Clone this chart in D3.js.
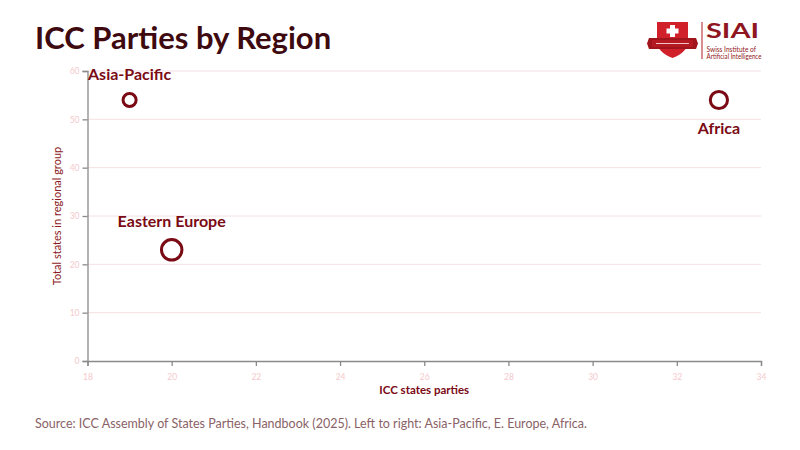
<!DOCTYPE html>
<html>
<head>
<meta charset="utf-8">
<script src="https://cdn.jsdelivr.net/npm/d3@7"></script>
<style>
  body { margin: 0; background: #fff; }
  svg { font-family: Lato, "Open Sans", sans-serif; }
</style>
</head>
<body>
<svg id="chart" width="800" height="450"></svg>
<script>
const WIDTH = 800
const HEIGHT = 450

// data
const regions = ['Asia-Pacific', 'Eastern Europe', 'Africa'];
const iccParties = [19, 20, 33];
const totalStates = [54, 23, 54];
const labelSide = ['above', 'above', 'below'];
const xTicks = [18, 20, 22, 24, 26, 28, 30, 32, 34];
const yTicks = [0, 10, 20, 30, 40, 50, 60];

const DARK_RED = '#7a0a14';
const TICK_PINK = '#f5c9cc';
const GRID_PINK = '#f6e0e2';

let padding = { left: 87.5, right: 39, top: 71, bottom: 89 };

const svg = d3.select('#chart');

const x = d3.scaleLinear()
    .domain([18, 34])
    .range([padding.left, WIDTH - padding.right]);

const y = d3.scaleLinear()
    .domain([0, 60])
    .range([HEIGHT - padding.bottom, padding.top]);

// circle size from share of the group that joined
const r = d3.scaleSqrt().domain([0, 1]).range([0, 11]);

let points = regions.map((name, i) => ({
    name: name,
    parties: iccParties[i],
    total: totalStates[i],
    side: labelSide[i]
}));

// gridlines
svg.append('g')
    .selectAll('line')
    .data(yTicks.filter(d => d > 0))
    .join('line')
    .attr('x1', padding.left)
    .attr('x2', WIDTH - padding.right)
    .attr('y1', d => y(d))
    .attr('y2', d => y(d))
    .attr('stroke', GRID_PINK)
    .attr('stroke-width', 1);

// axes
let xAxis = svg.append('g')
    .attr('transform', `translate(0, ${HEIGHT - padding.bottom})`)
    .call(d3.axisBottom(x).tickValues(xTicks).tickSize(5).tickPadding(8));

let yAxis = svg.append('g')
    .attr('transform', `translate(${padding.left}, 0)`)
    .call(d3.axisLeft(y).tickValues(yTicks).tickSize(5).tickPadding(3));

[xAxis, yAxis].forEach(a => {
    a.select('.domain').attr('stroke', '#8a8a8a').attr('stroke-width', 1.3);
    a.selectAll('.tick line').attr('stroke', '#8a8a8a').attr('stroke-width', 1.3);
    a.selectAll('.tick text')
        .attr('fill', TICK_PINK)
        .style('font-family', 'Lato, sans-serif')
        .style('font-size', '8.5px');
});
yAxis.selectAll('.tick text').attr('dy', '0.32em');

// axis titles
svg.append('text')
    .text('ICC states parties')
    .attr('x', (padding.left + WIDTH - padding.right) / 2)
    .attr('y', 394)
    .attr('text-anchor', 'middle')
    .attr('fill', DARK_RED)
    .style('font-size', '11.5px')
    .style('font-weight', 'bold');

svg.append('text')
    .text('Total states in regional group')
    .attr('transform', `translate(61, ${(padding.top + HEIGHT - padding.bottom) / 2}) rotate(-90)`)
    .attr('text-anchor', 'middle')
    .attr('fill', '#8b1a22')
    .style('font-size', '11px');

// circles
svg.append('g')
    .selectAll('circle')
    .data(points)
    .join('circle')
    .attr('cx', d => x(d.parties))
    .attr('cy', d => y(d.total))
    .attr('r', d => r(d.parties / d.total))
    .attr('fill', 'none')
    .attr('stroke', DARK_RED)
    .attr('stroke-width', 3);

// labels
svg.append('g')
    .selectAll('text')
    .data(points)
    .join('text')
    .text(d => d.name)
    .attr('x', d => x(d.parties))
    .attr('y', d => {
        let rad = r(d.parties / d.total);
        return d.side === 'above' ? y(d.total) - rad - 13 : y(d.total) + rad + 25;
    })
    .attr('text-anchor', 'middle')
    .attr('fill', DARK_RED)
    .style('font-size', '16px')
    .style('font-weight', 'bold');

// title and source
svg.append('text')
    .text('ICC Parties by Region')
    .attr('x', 35)
    .attr('y', 49)
    .attr('fill', '#3e0a10')
    .style('font-size', '31px')
    .style('font-weight', 'bold');

svg.append('text')
    .text('Source: ICC Assembly of States Parties, Handbook (2025). Left to right: Asia-Pacific, E. Europe, Africa.')
    .attr('x', 35)
    .attr('y', 428)
    .attr('fill', '#8a6266')
    .style('font-size', '12.5px');

// logo
let logo = svg.append('g').attr('transform', 'translate(649, 22)');
logo.append('path')
    .attr('d', 'M8,0 L39,0 L39,19 Q39,30 23.5,36 Q8,30 8,19 Z')
    .attr('fill', '#d0202a');
logo.append('path')
    .attr('d', 'M0,16 L47,16 L49,21.5 L47,27 L0,27 L-2,21.5 Z')
    .attr('fill', '#a0141c');
logo.append('rect').attr('x', 3).attr('y', 18).attr('width', 41).attr('height', 7).attr('fill', '#b51a22');
logo.append('rect').attr('x', 21).attr('y', 3).attr('width', 5).attr('height', 12).attr('fill', '#fff');
logo.append('rect').attr('x', 17.5).attr('y', 6.5).attr('width', 12).attr('height', 5).attr('fill', '#fff');
logo.append('line').attr('x1', 7).attr('x2', 40).attr('y1', 21.5).attr('y2', 21.5)
    .attr('stroke', '#f3c4c4').attr('stroke-width', 1);
logo.append('line').attr('x1', 53).attr('x2', 53).attr('y1', 0).attr('y2', 37)
    .attr('stroke', '#b51a22').attr('stroke-width', 1);
logo.append('text').text('SIAI')
    .attr('x', 57).attr('y', 16)
    .attr('textLength', 53)
    .attr('lengthAdjust', 'spacingAndGlyphs')
    .attr('fill', '#8f1620')
    .style('font-size', '21px')
    .style('font-weight', 'bold');
logo.append('text').text('Swiss Institute of')
    .attr('x', 57.5).attr('y', 30)
    .attr('fill', '#8f1620')
    .style('font-size', '6.6px');
logo.append('text').text('Artificial Intelligence')
    .attr('x', 57.5).attr('y', 36.5)
    .attr('textLength', 55)
    .attr('lengthAdjust', 'spacingAndGlyphs')
    .attr('fill', '#8f1620')
    .style('font-size', '6.6px');
</script>
</body>
</html>
